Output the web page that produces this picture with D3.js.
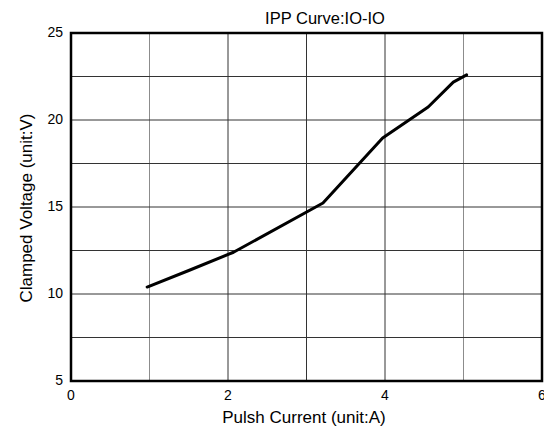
<!DOCTYPE html>
<html>
<head>
<meta charset="utf-8">
<script src="https://cdn.jsdelivr.net/npm/d3@7"></script>
<style>
  body { margin: 0; background: #fff; }
  text { font-family: "Liberation Sans", Arial, sans-serif; fill: #000; }
</style>
</head>
<body>
<svg id="chart" width="544" height="435"></svg>
<script>
// curve
const current = [0.97, 1.5, 2.07, 3.21, 3.97, 4.55, 4.87, 5.04];
const voltage = [10.4, 11.35, 12.4, 15.23, 18.97, 20.75, 22.18, 22.59];
const xTicks = [0, 2, 4, 6];
const yTicks = [5, 10, 15, 20, 25];
const xGrid = [1, 2, 3, 4, 5];
const yGrid = [7.5, 10, 12.5, 15, 17.5, 20, 22.5];

const svg = d3.select('#chart');
const margin = { left: 71, right: 2, top: 33, bottom: 54 };
const width = 544, height = 435;

const x = d3.scaleLinear().domain([0, 6]).range([margin.left, width - margin.right]);
const y = d3.scaleLinear().domain([5, 25]).range([height - margin.bottom, margin.top]);

// grid
svg.append('g')
  .selectAll('line')
  .data(xGrid)
  .join('line')
  .attr('x1', d => x(d)).attr('x2', d => x(d))
  .attr('y1', y(5)).attr('y2', y(25))
  .attr('stroke', d => (d === 1 || d === 5) ? '#8c8c8c' : '#333')
  .attr('stroke-width', 1);

svg.append('g')
  .selectAll('line')
  .data(yGrid)
  .join('line')
  .attr('x1', x(0)).attr('x2', x(6))
  .attr('y1', d => y(d)).attr('y2', d => y(d))
  .attr('stroke', '#333')
  .attr('stroke-width', 1);

// frame
svg.append('rect')
  .attr('x', x(0)).attr('y', y(25))
  .attr('width', x(6) - x(0)).attr('height', y(5) - y(25))
  .attr('fill', 'none')
  .attr('stroke', '#000')
  .attr('stroke-width', 2.5);

// tick labels
svg.append('g')
  .selectAll('text')
  .data(xTicks)
  .join('text')
  .attr('x', d => x(d))
  .attr('y', y(5) + 19)
  .attr('text-anchor', 'middle')
  .style('font-size', '14px')
  .text(d => d);

svg.append('g')
  .selectAll('text')
  .data(yTicks)
  .join('text')
  .attr('x', x(0) - 8)
  .attr('y', d => y(d) + 4)
  .attr('text-anchor', 'end')
  .style('font-size', '14px')
  .text(d => d);

// curve
const line = d3.line()
  .x((d, i) => x(current[i]))
  .y(d => y(d));

svg.append('path')
  .datum(voltage)
  .attr('d', line)
  .attr('fill', 'none')
  .attr('stroke', '#000')
  .attr('stroke-width', 3)
  .attr('stroke-linejoin', 'round')
  .attr('stroke-linecap', 'round');

// titles
svg.append('text')
  .attr('x', 325).attr('y', 24)
  .attr('text-anchor', 'middle')
  .style('font-size', '16.5px')
  .text('IPP Curve:IO-IO');

svg.append('text')
  .attr('x', 304).attr('y', 423)
  .attr('text-anchor', 'middle')
  .style('font-size', '17px')
  .text('Pulsh Current (unit:A)');

svg.append('text')
  .attr('transform', `translate(32, 208) rotate(-90)`)
  .attr('text-anchor', 'middle')
  .style('font-size', '17px')
  .text('Clamped Voltage (unit:V)');
</script>
</body>
</html>
